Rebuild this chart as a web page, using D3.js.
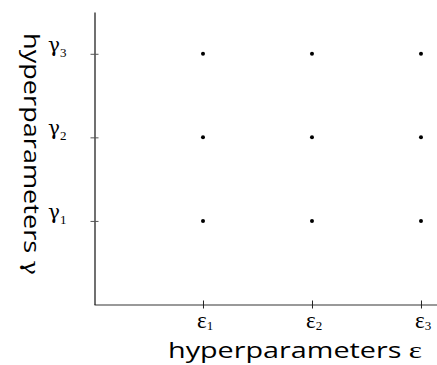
<!DOCTYPE html>
<html lang="en">
<head>
  <meta charset="UTF-8">
  <title>hyperparameter grid</title>
  <script src="https://cdn.jsdelivr.net/npm/d3@7"></script>
  <style>
  body { margin: 0; padding: 0; background: #fff; }
  .tickLabel { font-family: "Liberation Serif", serif; fill: #000; }
  .gamma { font-family: "DejaVu Serif", serif; }
  .axisTitle { font-family: "Open Sans", sans-serif; font-size: 22px; fill: #000; }
  </style>
</head>
<body>
  <div id="chart"></div>
<script>
  // grid values
  var epsValues = [1, 2, 3];
  var gammaValues = [1, 2, 3];
  var epsLabels = ['ε', 'ε', 'ε'];
  var gammaLabels = ['γ', 'γ', 'γ'];
  var subLabels = ['1', '2', '3'];

  var width = 437, height = 365;

  var svg = d3.select('#chart').append('svg')
    .attr('width', width)
    .attr('height', height);

  var xScale = d3.scaleLinear().domain([0, 3.147]).range([94, 437]);
  var yScale = d3.scaleLinear().domain([0, 3.5]).range([304.5, 12]);

  // points: every eps x gamma pair
  var points = [];
  gammaValues.forEach(function(g) {
    epsValues.forEach(function(e) { points.push({e: e, g: g}); });
  });

  // x axis
  var xAxisG = svg.append('g')
    .attr('transform', 'translate(0,304.5)')
    .call(d3.axisBottom(xScale).tickValues(epsValues).tickSize(0).tickFormat(''));
  xAxisG.select('.domain').attr('stroke', '#777').attr('stroke-width', 1.3);
  xAxisG.selectAll('.tick line').attr('y1', -4).attr('y2', 4).attr('stroke', '#222');

  // y axis
  var yAxisG = svg.append('g')
    .attr('transform', 'translate(94.5,0)')
    .call(d3.axisLeft(yScale).tickValues(gammaValues).tickSize(0).tickFormat(''));
  yAxisG.select('.domain').attr('stroke', '#111').attr('stroke-width', 1.2);
  yAxisG.selectAll('.tick line').attr('x1', -4).attr('x2', 4).attr('stroke', '#555');

  // tick labels with subscripts
  var xl = svg.selectAll('.xLabel').data(epsValues).enter().append('text')
    .attr('class', 'tickLabel')
    .attr('x', function(d) { return xScale(d) - 6; })
    .attr('y', 328);
  xl.append('tspan').attr('font-size', 23).text(function(d, i) { return epsLabels[i]; });
  xl.append('tspan').attr('font-size', 13).attr('dy', 2).text(function(d, i) { return subLabels[i]; });

  var yl = svg.selectAll('.yLabel').data(gammaValues).enter().append('text')
    .attr('class', 'tickLabel')
    .attr('x', 48)
    .attr('y', function(d) { return yScale(d) - 2; });
  yl.append('tspan').attr('class', 'gamma').attr('font-size', 20).text(function(d, i) { return gammaLabels[i]; });
  yl.append('tspan').attr('font-size', 13).attr('dy', 5).text(function(d, i) { return subLabels[i]; });

  // dots
  svg.selectAll('.dot').data(points).enter().append('circle')
    .attr('class', 'dot')
    .attr('cx', function(d) { return xScale(d.e); })
    .attr('cy', function(d) { return yScale(d.g); })
    .attr('r', 2)
    .attr('fill', '#000');

  // axis titles
  var xt = svg.append('text')
    .attr('class', 'axisTitle')
    .attr('x', 168)
    .attr('y', 358)
    .attr('textLength', 254)
    .attr('lengthAdjust', 'spacingAndGlyphs');
  xt.append('tspan').text('hyperparameters ');
  xt.append('tspan').attr('font-family', 'Liberation Serif, serif').attr('font-size', 24).text('ε');

  var yt = svg.append('text')
    .attr('class', 'axisTitle')
    .attr('transform', 'translate(24,33) rotate(90)')
    .attr('textLength', 242)
    .attr('lengthAdjust', 'spacingAndGlyphs');
  yt.append('tspan').text('hyperparameters ');
  yt.append('tspan').attr('font-family', 'DejaVu Serif, serif').attr('font-size', 20).text('γ');
</script>
</body>
</html>
